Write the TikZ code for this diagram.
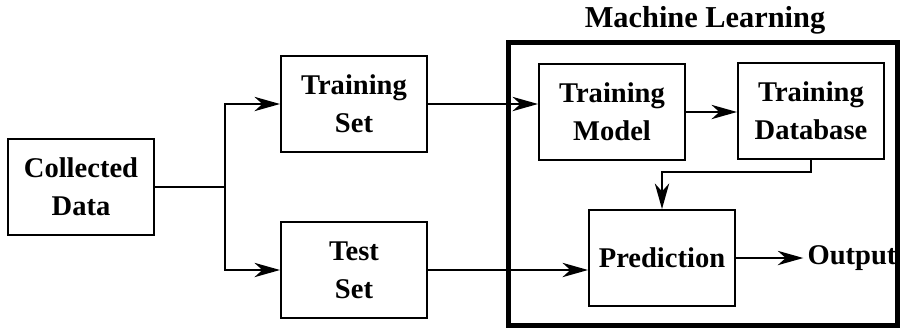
\documentclass[tikz,border=0pt]{standalone}
\usepackage{fontspec}
\setmainfont{Liberation Serif}
\usetikzlibrary{arrows.meta}

\begin{document}
\begin{tikzpicture}[x=0.025cm,y=-0.025cm,
  txt/.style={font=\bfseries\fontsize{20.3}{27}\selectfont,align=center},
  box/.style={txt,draw,line width=1.4pt,minimum width=3.65cm,minimum height=2.4cm},
  arr/.style={-{Stealth[length=0.64cm,width=0.36cm,inset=0.2cm]},line width=1pt}]
\useasboundingbox (0,0) rectangle (902,331);

\node[box] (cdata) at (81,187) {Collected\\Data};
\node[box] (tset) at (354,104) {Training\\Set};
\node[box] (teset) at (354,270) {Test\\Set};
\node[box] (tmodel) at (612,112) {Training\\Model};
\node[box] (tdb) at (811,111) {Training\\Database};
\node[box] (pred) at (662,258) {Prediction};
\node[txt,inner sep=0.1cm] (out) at (852,258) {Output};

\node[txt,font=\bfseries\fontsize{21.6}{27}\selectfont] (mltitle) at (705,20) {Machine Learning};
\draw[line width=3.5pt] (508.5,42.5) rectangle (897.5,325.5);

\draw[line width=1pt] (cdata.east) -- ++(70,0) coordinate (split);
\draw[arr] (split) |- (tset.west);
\draw[arr] (split) |- (teset.west);
\draw[arr] (tset.east) -- (tset.east -| tmodel.west);
\draw[arr] (teset.east) -- (teset.east -| pred.west);
\draw[arr] (tmodel.east) -- (tmodel.east -| tdb.west);
\draw[arr] (tdb.south) -- ++(0,12) -| (pred.north);
\draw[arr] (pred.east) -- (out.west);
\end{tikzpicture}
\end{document}
